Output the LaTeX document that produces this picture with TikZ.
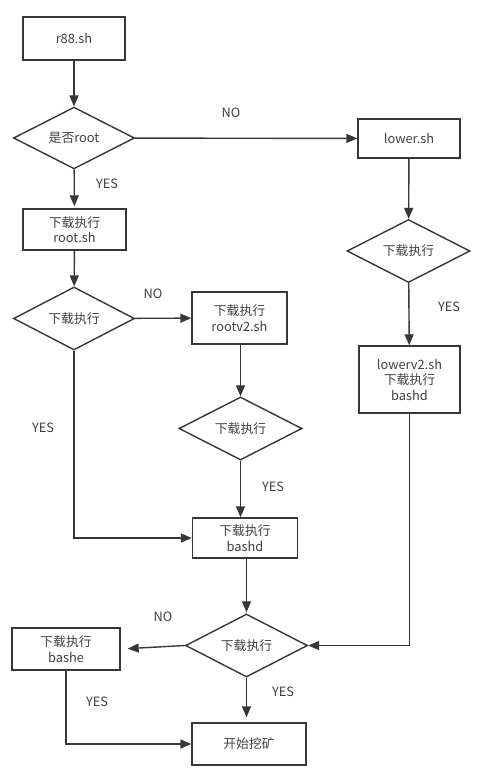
\documentclass[tikz,border=0pt]{standalone}
\usepackage{fontspec}
\setmainfont{Noto Sans CJK SC}
\usetikzlibrary{shapes.geometric,arrows.meta}
\definecolor{ln}{RGB}{55,55,55}
\definecolor{tx}{RGB}{65,65,65}
\begin{document}
\begin{tikzpicture}[x=1pt,y=-1pt,
  every node/.style={font=\fontsize{12.8}{15.5}\selectfont, text=tx},
  procbox/.style={draw=ln, line width=1.4pt, rectangle, inner sep=0pt, align=center},
  decide/.style={draw=ln, line width=1.4pt, diamond, inner sep=0pt, align=center},
  lbl/.style={inner sep=0pt},
  conn/.style={draw=ln, line width=1.4pt, -{Triangle[length=11pt,width=9pt]}},
  plain/.style={draw=ln, line width=1.4pt}]
\useasboundingbox (0,0) rectangle (482,782);
\fill[white] (0,0) rectangle (482,782);

\node[procbox, minimum width=102pt, minimum height=43pt] (r88) at (74,38.5) {r88.sh};
\node[decide, minimum width=121pt, minimum height=59pt] (q1) at (74,138) {是否root};
\node[procbox, minimum width=103pt, minimum height=41pt] (root) at (74.5,229.5) {下载执行\\root.sh};
\node[decide, minimum width=121pt, minimum height=61pt] (q2) at (74,318.5) {下载执行};
\node[procbox, minimum width=95pt, minimum height=52pt] (rootv) at (239.5,318) {下载执行\\rootv2.sh};
\node[decide, minimum width=123pt, minimum height=63pt] (q3) at (240.5,428.5) {下载执行};
\node[procbox, minimum width=105pt, minimum height=40pt] (bashd) at (245,538) {下载执行\\bashd};
\node[decide, minimum width=122pt, minimum height=53pt] (q4) at (246.5,645.5) {下载执行};
\node[procbox, minimum width=108pt, minimum height=42pt] (bashe) at (66,649) {下载执行\\bashe};
\node[procbox, minimum width=114pt, minimum height=42pt] (mine) at (249,744) {开始挖矿};
\node[procbox, minimum width=102pt, minimum height=39pt] (lower) at (409,138.5) {lower.sh};
\node[decide, minimum width=123pt, minimum height=56pt] (q5) at (408.5,251) {下载执行};
\node[procbox, minimum width=101pt, minimum height=67pt] (lowerv) at (409.5,379.5) {lowerv2.sh\\下载执行\\bashd};

\node[lbl] (l1) at (231,113) {NO};
\node[lbl] (l2) at (107,184) {YES};
\node[lbl] (l3) at (153,294) {NO};
\node[lbl] (l4) at (43,428) {YES};
\node[lbl] (l5) at (273,487) {YES};
\node[lbl] (l6) at (449,307) {YES};
\node[lbl] (l7) at (163,617) {NO};
\node[lbl] (l8) at (283,692) {YES};
\node[lbl] (l9) at (97,702) {YES};

\draw[conn] (r88) -- (q1);
\draw[conn, shorten >=2pt] (q1) -- (root);
\draw[conn] (q1) -- (lower);
\draw[conn] (root) -- (q2);
\draw[conn] (q2) -- (rootv);
\draw[conn] (rootv.south -| q3.north) -- (q3.north);
\draw[conn] (q3.south) -- (q3.south |- bashd.north);
\draw[conn] (q2.south) |- (bashd.west);
\draw[conn, shorten >=1pt] (bashd.south -| q4.north) -- (q4.north);
\draw[conn, shorten >=7pt] (q4.west) -- (bashe.east);
\draw[conn, shorten >=5pt] (q4.south) -- (q4.south |- mine.north);
\draw[conn] (bashe.south) |- (mine.west);
\draw[conn] (lower) -- (q5);
\draw[conn] (q5) -- (lowerv);
\draw[conn] (lowerv.south) |- (q4.east);
\end{tikzpicture}
\end{document}
